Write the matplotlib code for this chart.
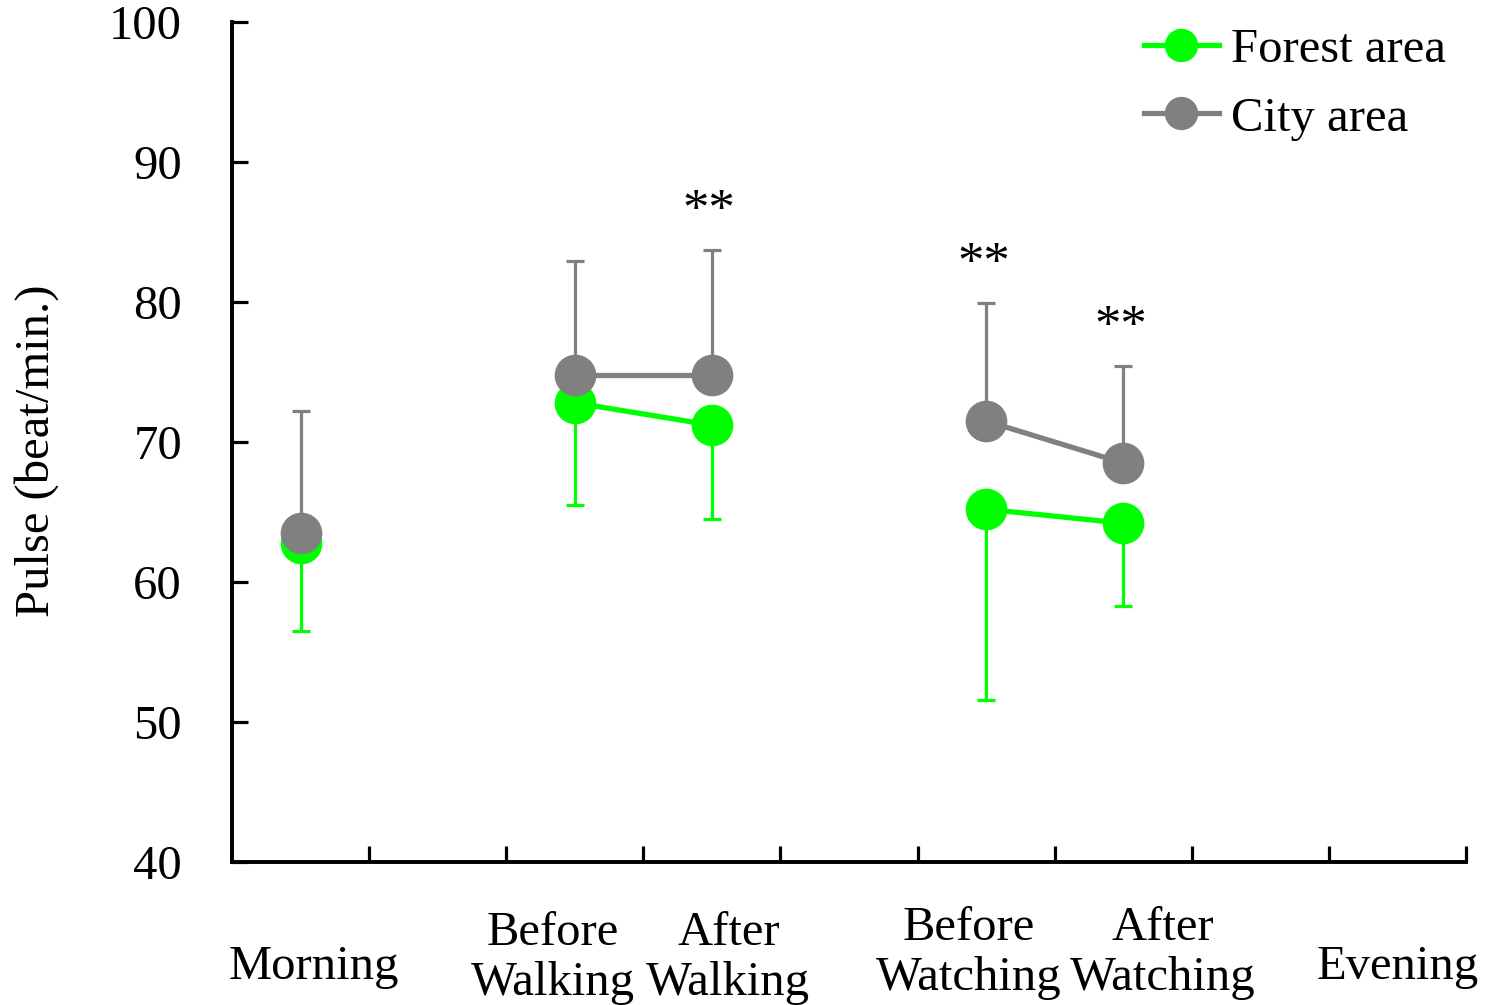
import numpy as np
import matplotlib
matplotlib.use('Agg')
import matplotlib.pyplot as plt

plt.rcParams['font.family'] = ['Liberation Serif', 'DejaVu Serif']

# time points that carry measurements
x_points = [0.5, 2.5, 3.5, 5.5, 6.5]
forest_mean = [62.8, 72.8, 71.2, 65.2, 64.2]
forest_sd = [6.3, 7.3, 6.7, 13.6, 5.9]
city_mean = [63.5, 74.8, 74.8, 71.5, 68.5]
city_sd = [8.7, 8.1, 8.9, 8.4, 6.9]
# which points get joined by a line
groups = [[0], [1, 2], [3, 4]]
# significance marks (index of point)
signif = [2, 3, 4]

cat_labels = ['Morning', 'Before\nWalking', 'After\nWalking',
              'Before\nWatching', 'After\nWatching', 'Evening']
cat_x = [0.6, 2.34, 3.62, 5.37, 6.79, 8.5]
cat_y = [-0.125, -0.114, -0.114, -0.108, -0.108, -0.125]

green = '#00ff00'
gray = '#808080'
fs = 35

fig = plt.figure(figsize=(14.95, 10.05), dpi=100)
ax = fig.add_axes([0.1552, 0.1423, 0.8254, 0.8358])

fm = np.array(forest_mean)
cm = np.array(city_mean)
z = np.zeros(len(fm))

ax.errorbar(x_points, fm, yerr=[forest_sd, z], fmt='none', ecolor=green,
            elinewidth=2.3, capsize=6.5, capthick=2.3, zorder=2)
for g in groups:
    ax.plot([x_points[i] for i in g], fm[g], '-o', color=green, lw=3.8,
            ms=29, zorder=3)
ax.errorbar(x_points, cm, yerr=[z, city_sd], fmt='none', ecolor=gray,
            elinewidth=2.3, capsize=6.5, capthick=2.3, zorder=4)
for g in groups:
    ax.plot([x_points[i] for i in g], cm[g], '-o', color=gray, lw=3.8,
            ms=29, zorder=5)

for i in signif:
    ax.text(x_points[i] - 0.02, cm[i] + city_sd[i] + 2.75, '**', ha='center',
            va='center', fontsize=38)

h1, = ax.plot([], [], '-o', color=green, lw=3.8, ms=23)
h2, = ax.plot([], [], '-o', color=gray, lw=3.8, ms=23)
ax.legend([h1, h2], ['Forest area', 'City area'], loc='upper left',
          bbox_to_anchor=(0.765, 0.972), bbox_transform=fig.transFigure,
          frameon=False, fontsize=fs, handlelength=1.55, handletextpad=0.25,
          labelspacing=0.5, borderpad=0, borderaxespad=0)

ax.set_xlim(0, 9)
ax.set_ylim(40, 100)
ax.set_xticks(np.arange(1, 10))
ax.set_xticklabels([])
ax.set_yticks(np.arange(40, 101, 10))
ax.tick_params(axis='both', direction='in', length=11.5, width=2.3)
ax.tick_params(axis='y', labelsize=fs, pad=36)
for s in ['top', 'right']:
    ax.spines[s].set_visible(False)
for s in ['left', 'bottom']:
    ax.spines[s].set_linewidth(2.8)

for lab, xx, yy in zip(cat_labels, cat_x, cat_y):
    ax.text(xx, yy, lab, transform=ax.get_xaxis_transform(), ha='center',
            va='center', fontsize=fs, linespacing=1.17)

fig.text(37 / 1495, 0.551, 'Pulse (beat/min.)', rotation=90, ha='center',
         va='center', fontsize=fs)

fig.savefig('out.png', dpi=100)
